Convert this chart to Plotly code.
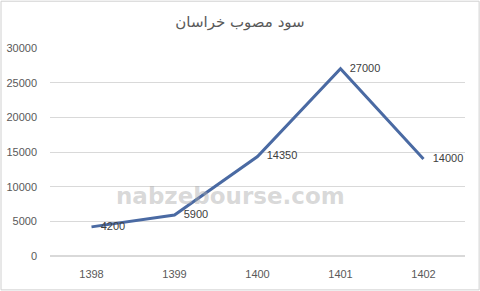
import plotly.graph_objects as go

years = ["1398", "1399", "1400", "1401", "1402"]
profit = [4200, 5900, 14350, 27000, 14000]
labels = ["4200", "5900", "14350", "27000", "14000"]
y_ticks = [0, 5000, 10000, 15000, 20000, 25000, 30000]
y_tick_text = ["0", "5000", "10000", "15000", "20000", "25000", "30000"]
title_text = "سود مصوب خراسان"
watermark = "nabzebourse.com"

fig = go.Figure()
fig.add_trace(go.Scatter(
    x=years, y=profit, mode="lines+text",
    text=["   " + s for s in labels], textposition="middle right",
    textfont=dict(family="Liberation Sans, Arial", size=11, color="#404040"),
    line=dict(color="#4a6aa3", width=3),
    cliponaxis=False, hoverinfo="skip",
))

fig.update_layout(
    width=480, height=291,
    margin=dict(l=50, r=15, t=48, b=35, autoexpand=False),
    paper_bgcolor="white", plot_bgcolor="white",
    showlegend=False,
    title=dict(text=title_text, x=0.5, xanchor="center", y=0.925, yanchor="middle",
               font=dict(family="DejaVu Sans, Noto Sans", size=15, color="#595959")),
    xaxis=dict(type="category", showgrid=False, showline=False, ticks="",
               ticklabelstandoff=10, automargin=False,
               tickfont=dict(family="Liberation Sans, Arial", size=11, color="#595959"),
               range=[-0.5, 4.5]),
    yaxis=dict(range=[0, 30000], tickvals=y_ticks, ticktext=y_tick_text,
               showgrid=True, gridcolor="#d9d9d9", automargin=False,
               gridwidth=1, zeroline=True, zerolinecolor="#d9d9d9", showline=False,
               ticks="", ticklen=0, ticklabelstandoff=12,
               tickfont=dict(family="Liberation Sans, Arial", size=11, color="#595959")),
    shapes=[dict(type="rect", xref="paper", yref="paper", x0=-0.118, x1=1.034,
                 y0=-0.163, y1=1.225, line=dict(color="#d0d0d0", width=1))],
    annotations=[
        dict(text="<b>" + watermark + "</b>", xref="paper", yref="paper", x=0.435, y=0.215,
             showarrow=False,
             font=dict(family="DejaVu Sans", size=23, color="rgba(170,170,170,0.45)")),
    ],
)

fig.write_html("out.html")
